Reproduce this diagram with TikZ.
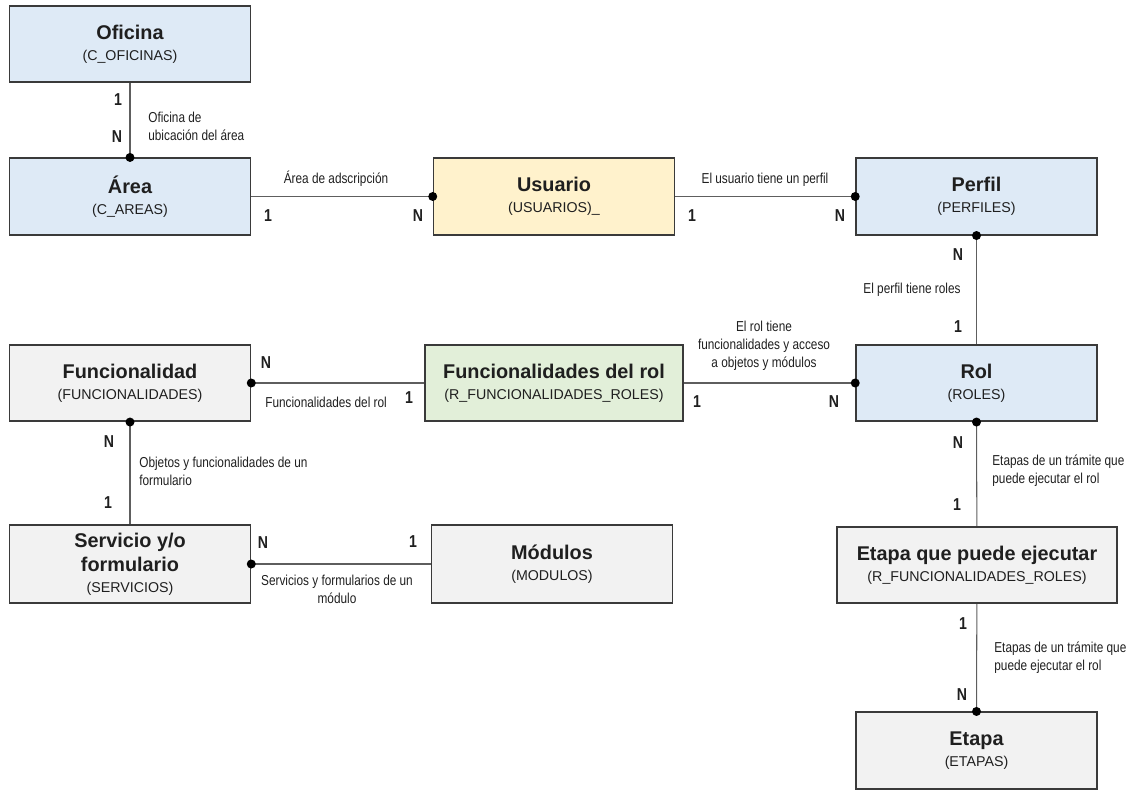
\documentclass[tikz,border=0pt]{standalone}
\usepackage{fontspec}
\setmainfont{Liberation Sans}
\newfontfamily\narrowfont[FakeStretch=0.82]{Liberation Sans}
\usetikzlibrary{calc}
\definecolor{boxbd}{HTML}{3A3A3A}
\definecolor{relln}{HTML}{5E5E5E}
\definecolor{bluebg}{HTML}{DEEAF6}
\definecolor{yellowbg}{HTML}{FFF2CC}
\definecolor{greenbg}{HTML}{E2EFD9}
\definecolor{greybg}{HTML}{F2F2F2}
\definecolor{ink}{HTML}{1F1F1F}
\newcommand{\enttitle}[1]{{\fontsize{11.3}{12}\selectfont\bfseries #1}}
\tikzset{
  entity/.style={draw=boxbd,line width=0.9pt,minimum width=4.82cm,
                 minimum height=1.53cm,align=center,inner sep=2pt,text=ink,
                 font=\fontsize{8.1}{12}\selectfont},
  rel/.style={draw=relln,line width=0.6pt},
  dot/.style={circle,fill=black,inner sep=0pt,minimum size=0.18cm},
  mult/.style={font=\narrowfont\bfseries\fontsize{9.8}{10}\selectfont,
               inner sep=0pt,text=ink},
  rellabel/.style={font=\narrowfont\fontsize{8.2}{10.2}\selectfont,
                   inner sep=0pt,align=left,text=ink},
}
\begin{document}
\begin{tikzpicture}[x=0.02cm,y=-0.02cm]
  \useasboundingbox (0,0) rectangle (1132,790);
  % tablas
  \node[entity,fill=bluebg](oficina)at(130,44){\enttitle{Oficina}\\(C\_OFICINAS)};
  \node[entity,fill=bluebg](area)at(130,196.5){\enttitle{Área}\\(C\_AREAS)};
  \node[entity,fill=yellowbg](usuario)at(554,196.5){\enttitle{Usuario}\\(USUARIOS)\_};
  \node[entity,fill=bluebg](perfil)at(976.5,196.5){\enttitle{Perfil}\\(PERFILES)};
  \node[entity,fill=greybg](funcionalidad)at(130,383)
    {\enttitle{Funcionalidad}\\(FUNCIONALIDADES)};
  \node[entity,fill=greenbg,minimum width=5.16cm](funcrol)at(554,383)
    {\enttitle{Funcionalidades del rol}\\(R\_FUNCIONALIDADES\_ROLES)};
  \node[entity,fill=bluebg](rol)at(976.5,383){\enttitle{Rol}\\(ROLES)};
  \node[entity,fill=greybg,minimum height=1.56cm](servicio)at(130,564)
    {\enttitle{Servicio y/o}\\[1.5pt]\enttitle{formulario}\\(SERVICIOS)};
  \node[entity,fill=greybg,minimum height=1.56cm](modulos)at(552,564)
    {\enttitle{Módulos}\\(MODULOS)};
  \node[entity,fill=greybg,minimum width=5.6cm](eqpe)at(977,565)
    {\enttitle{Etapa que puede ejecutar}\\(R\_FUNCIONALIDADES\_ROLES)};
  \node[entity,fill=greybg](etapa)at(976.5,750.5){\enttitle{Etapa}\\(ETAPAS)};

  % relaciones, el punto marca el lado N
  \draw[rel](oficina)--(area.north)node[dot]{};
  \draw[rel](area)--(usuario.west)node[dot]{};
  \draw[rel](usuario)--(perfil.west)node[dot]{};
  \draw[rel](rol)--(perfil.south)node[dot]{};
  \draw[rel](funcrol)--(rol.west)node[dot]{};
  \draw[rel](funcrol)--(funcionalidad.east)node[dot]{};
  \draw[rel](servicio)--(funcionalidad.south)node[dot]{};
  \draw[rel](modulos)--(servicio.east)node[dot]{};
  \draw[rel](eqpe)--(rol.south)node[dot]{};
  \draw[rel](eqpe)--(etapa.north)node[dot]{};

  % cardinalidades
  \node[mult](m1)at(118,100){1};
  \node[mult](m2)at(117,137){N};
  \node[mult](m3)at(268,216){1};
  \node[mult](m4)at(418,216){N};
  \node[mult](m5)at(692,216){1};
  \node[mult](m6)at(840,216){N};
  \node[mult](m7)at(958,255){N};
  \node[mult](m8)at(958,327){1};
  \node[mult](m9)at(697,402){1};
  \node[mult](m10)at(834,402){N};
  \node[mult](m11)at(266,363){N};
  \node[mult](m12)at(409,398){1};
  \node[mult](m13)at(109,442){N};
  \node[mult](m14)at(108,503){1};
  \node[mult](m15)at(263,543){N};
  \node[mult](m16)at(413,542){1};
  \node[mult](m17)at(958,443){N};
  \node[mult](m18)at(957,505){1};
  \node[mult](m19)at(963,624){1};
  \node[mult](m20)at(962,695){N};

  % nombres de las relaciones
  \node[rellabel,anchor=west](l1)at(148,126){Oficina de\\ubicación del área};
  \node[rellabel](l2)at(336,179){Área de adscripción};
  \node[rellabel](l3)at(765,180){El usuario tiene un perfil};
  \node[rellabel](l4)at(912,290){El perfil tiene roles};
  \node[rellabel,align=center](l5)at(764,346)
    {El rol tiene\\funcionalidades y acceso\\a objetos y módulos};
  \node[rellabel,anchor=west](l6)at(265,402){Funcionalidades del rol};
  \node[rellabel,anchor=west](l7)at(139,471)
    {Objetos y funcionalidades de un\\formulario};
  \node[rellabel,align=center](l8)at(337,589)
    {Servicios y formularios de un\\módulo};
  \node[rellabel,anchor=west](l9)at(992,471)
    {Etapas de un trámite que\\puede ejecutar el rol};
  \node[rellabel,anchor=west](l10)at(994,658)
    {Etapas de un trámite que\\puede ejecutar el rol};
\end{tikzpicture}
\end{document}
